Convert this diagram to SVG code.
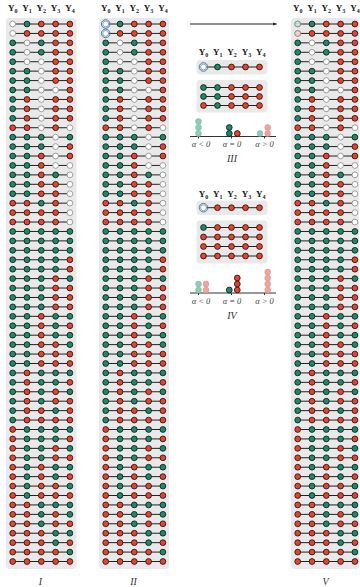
<svg xmlns="http://www.w3.org/2000/svg" xmlns:xlink="http://www.w3.org/1999/xlink" width="360" height="587" viewBox="0 0 360 587">
<style>
.g{fill:#1b8a6b;stroke:#111;stroke-width:0.8}
.r{fill:#e8412c;stroke:#111;stroke-width:0.8}
.w{fill:#fff;stroke:#8a8a8a;stroke-width:0.8}
.lg{fill:#93cbb9;stroke:#7db7a5;stroke-width:0.6}
.lr{fill:#f2a39b;stroke:#dd8f87;stroke-width:0.6}
.ring{fill:none;stroke:#3b82c4;stroke-width:1}
.panel{fill:#e9e9e9}
.conn{stroke:#222;stroke-width:1;fill:none}
.lab{font-family:"Liberation Serif",serif;font-weight:bold;font-size:9px;text-anchor:middle;fill:#222}
.sub{font-size:6px}
.cap{font-family:"Liberation Serif",serif;font-style:italic;font-size:10px;text-anchor:middle;fill:#333}
.al{font-family:"Liberation Serif",serif;font-style:italic;font-size:8.5px;text-anchor:middle;fill:#444}
.axis{stroke:#333;stroke-width:1;fill:none}
</style>
<defs>
<circle id="G" class="g" r="2.9"/>
<circle id="R" class="r" r="2.9"/>
<circle id="W" class="w" r="2.9"/>
<pattern id="hg" width="1.6" height="1.6" patternUnits="userSpaceOnUse"><rect width="1.6" height="1.6" fill="#fff"/><circle cx="0.8" cy="0.8" r="0.5" fill="#1b8a6b"/></pattern>
<pattern id="hr" width="1.6" height="1.6" patternUnits="userSpaceOnUse"><rect width="1.6" height="1.6" fill="#fff"/><circle cx="0.8" cy="0.8" r="0.5" fill="#e8412c"/></pattern>
<marker id="ah" markerWidth="4" markerHeight="4" refX="3.5" refY="2" orient="auto" markerUnits="userSpaceOnUse"><path d="M0,0.5 L4,2 L0,3.5 Z" fill="#222"/></marker>
<path id="lines" class="conn" d="M0 24h57.2M0 33.43h57.2M0 42.86h57.2M0 52.29h57.2M0 61.72h57.2M0 71.15h57.2M0 80.58h57.2M0 90.01h57.2M0 99.44h57.2M0 108.87h57.2M0 118.3h57.2M0 127.73h57.2M0 137.16h57.2M0 146.59h57.2M0 156.02h57.2M0 165.45h57.2M0 174.88h57.2M0 184.31h57.2M0 193.74h57.2M0 203.17h57.2M0 212.6h57.2M0 222.03h57.2M0 231.46h57.2M0 240.89h57.2M0 250.32h57.2M0 259.75h57.2M0 269.18h57.2M0 278.61h57.2M0 288.04h57.2M0 297.47h57.2M0 306.9h57.2M0 316.33h57.2M0 325.76h57.2M0 335.19h57.2M0 344.62h57.2M0 354.05h57.2M0 363.48h57.2M0 372.91h57.2M0 382.34h57.2M0 391.77h57.2M0 401.2h57.2M0 410.63h57.2M0 420.06h57.2M0 429.49h57.2M0 438.92h57.2M0 448.35h57.2M0 457.78h57.2M0 467.21h57.2M0 476.64h57.2M0 486.07h57.2M0 495.5h57.2M0 504.93h57.2M0 514.36h57.2M0 523.79h57.2M0 533.22h57.2M0 542.65h57.2M0 552.08h57.2M0 561.51h57.2"/>
<g id="rows">
<g id="r0" transform="translate(0 24)"><use href="#W"/><use href="#G" x="14.3"/><use href="#R" x="28.6"/><use href="#R" x="42.9"/><use href="#R" x="57.2"/></g>
<g id="r1" transform="translate(0 33.43)"><use href="#W"/><use href="#R" x="14.3"/><use href="#R" x="28.6"/><use href="#R" x="42.9"/><use href="#R" x="57.2"/></g>
<g id="r2" transform="translate(0 42.86)"><use href="#G"/><use href="#W" x="14.3"/><use href="#G" x="28.6"/><use href="#R" x="42.9"/><use href="#R" x="57.2"/></g>
<g id="r3" transform="translate(0 52.29)"><use href="#G"/><use href="#W" x="14.3"/><use href="#G" x="28.6"/><use href="#R" x="42.9"/><use href="#R" x="57.2"/></g>
<g id="r4" transform="translate(0 61.72)"><use href="#G"/><use href="#W" x="14.3"/><use href="#W" x="28.6"/><use href="#R" x="42.9"/><use href="#R" x="57.2"/></g>
<g id="r5" transform="translate(0 71.15)"><use href="#G"/><use href="#G" x="14.3"/><use href="#W" x="28.6"/><use href="#R" x="42.9"/><use href="#R" x="57.2"/></g>
<g id="r6" transform="translate(0 80.58)"><use href="#G"/><use href="#G" x="14.3"/><use href="#W" x="28.6"/><use href="#R" x="42.9"/><use href="#R" x="57.2"/></g>
<g id="r7" transform="translate(0 90.01)"><use href="#G"/><use href="#G" x="14.3"/><use href="#W" x="28.6"/><use href="#W" x="42.9"/><use href="#R" x="57.2"/></g>
<g id="r8" transform="translate(0 99.44)"><use href="#G"/><use href="#R" x="14.3"/><use href="#W" x="28.6"/><use href="#R" x="42.9"/><use href="#R" x="57.2"/></g>
<g id="r9" transform="translate(0 108.87)"><use href="#G"/><use href="#R" x="14.3"/><use href="#W" x="28.6"/><use href="#R" x="42.9"/><use href="#R" x="57.2"/></g>
<g id="r10" transform="translate(0 118.3)"><use href="#G"/><use href="#R" x="14.3"/><use href="#W" x="28.6"/><use href="#R" x="42.9"/><use href="#R" x="57.2"/></g>
<g id="r11" transform="translate(0 127.73)"><use href="#R"/><use href="#R" x="14.3"/><use href="#W" x="28.6"/><use href="#R" x="42.9"/><use href="#W" x="57.2"/></g>
<g id="r12" transform="translate(0 137.16)"><use href="#G"/><use href="#G" x="14.3"/><use href="#G" x="28.6"/><use href="#W" x="42.9"/><use href="#G" x="57.2"/></g>
<g id="r13" transform="translate(0 146.59)"><use href="#G"/><use href="#G" x="14.3"/><use href="#G" x="28.6"/><use href="#W" x="42.9"/><use href="#R" x="57.2"/></g>
<g id="r14" transform="translate(0 156.02)"><use href="#G"/><use href="#G" x="14.3"/><use href="#R" x="28.6"/><use href="#W" x="42.9"/><use href="#R" x="57.2"/></g>
<g id="r15" transform="translate(0 165.45)"><use href="#G"/><use href="#G" x="14.3"/><use href="#R" x="28.6"/><use href="#W" x="42.9"/><use href="#W" x="57.2"/></g>
<g id="r16" transform="translate(0 174.88)"><use href="#G"/><use href="#G" x="14.3"/><use href="#R" x="28.6"/><use href="#G" x="42.9"/><use href="#W" x="57.2"/></g>
<g id="r17" transform="translate(0 184.31)"><use href="#G"/><use href="#G" x="14.3"/><use href="#R" x="28.6"/><use href="#R" x="42.9"/><use href="#W" x="57.2"/></g>
<g id="r18" transform="translate(0 193.74)"><use href="#G"/><use href="#G" x="14.3"/><use href="#R" x="28.6"/><use href="#R" x="42.9"/><use href="#W" x="57.2"/></g>
<g id="r19" transform="translate(0 203.17)"><use href="#R"/><use href="#R" x="14.3"/><use href="#G" x="28.6"/><use href="#R" x="42.9"/><use href="#W" x="57.2"/></g>
<g id="r20" transform="translate(0 212.6)"><use href="#R"/><use href="#R" x="14.3"/><use href="#R" x="28.6"/><use href="#R" x="42.9"/><use href="#W" x="57.2"/></g>
<g id="r21" transform="translate(0 222.03)"><use href="#R"/><use href="#R" x="14.3"/><use href="#R" x="28.6"/><use href="#R" x="42.9"/><use href="#W" x="57.2"/></g>
<g id="r22" transform="translate(0 231.46)"><use href="#G"/><use href="#G" x="14.3"/><use href="#G" x="28.6"/><use href="#G" x="42.9"/><use href="#G" x="57.2"/></g>
<g id="r23" transform="translate(0 240.89)"><use href="#G"/><use href="#G" x="14.3"/><use href="#G" x="28.6"/><use href="#G" x="42.9"/><use href="#G" x="57.2"/></g>
<g id="r24" transform="translate(0 250.32)"><use href="#G"/><use href="#G" x="14.3"/><use href="#G" x="28.6"/><use href="#G" x="42.9"/><use href="#G" x="57.2"/></g>
<g id="r25" transform="translate(0 259.75)"><use href="#G"/><use href="#G" x="14.3"/><use href="#G" x="28.6"/><use href="#G" x="42.9"/><use href="#R" x="57.2"/></g>
<g id="r26" transform="translate(0 269.18)"><use href="#G"/><use href="#G" x="14.3"/><use href="#G" x="28.6"/><use href="#G" x="42.9"/><use href="#R" x="57.2"/></g>
<g id="r27" transform="translate(0 278.61)"><use href="#G"/><use href="#G" x="14.3"/><use href="#G" x="28.6"/><use href="#R" x="42.9"/><use href="#G" x="57.2"/></g>
<g id="r28" transform="translate(0 288.04)"><use href="#G"/><use href="#G" x="14.3"/><use href="#G" x="28.6"/><use href="#R" x="42.9"/><use href="#R" x="57.2"/></g>
<g id="r29" transform="translate(0 297.47)"><use href="#G"/><use href="#G" x="14.3"/><use href="#G" x="28.6"/><use href="#R" x="42.9"/><use href="#R" x="57.2"/></g>
<g id="r30" transform="translate(0 306.9)"><use href="#G"/><use href="#G" x="14.3"/><use href="#G" x="28.6"/><use href="#R" x="42.9"/><use href="#R" x="57.2"/></g>
<g id="r31" transform="translate(0 316.33)"><use href="#G"/><use href="#G" x="14.3"/><use href="#R" x="28.6"/><use href="#G" x="42.9"/><use href="#G" x="57.2"/></g>
<g id="r32" transform="translate(0 325.76)"><use href="#G"/><use href="#G" x="14.3"/><use href="#R" x="28.6"/><use href="#G" x="42.9"/><use href="#R" x="57.2"/></g>
<g id="r33" transform="translate(0 335.19)"><use href="#G"/><use href="#G" x="14.3"/><use href="#R" x="28.6"/><use href="#G" x="42.9"/><use href="#G" x="57.2"/></g>
<g id="r34" transform="translate(0 344.62)"><use href="#G"/><use href="#G" x="14.3"/><use href="#R" x="28.6"/><use href="#R" x="42.9"/><use href="#G" x="57.2"/></g>
<g id="r35" transform="translate(0 354.05)"><use href="#G"/><use href="#G" x="14.3"/><use href="#R" x="28.6"/><use href="#R" x="42.9"/><use href="#R" x="57.2"/></g>
<g id="r36" transform="translate(0 363.48)"><use href="#G"/><use href="#G" x="14.3"/><use href="#R" x="28.6"/><use href="#R" x="42.9"/><use href="#R" x="57.2"/></g>
<g id="r37" transform="translate(0 372.91)"><use href="#G"/><use href="#R" x="14.3"/><use href="#G" x="28.6"/><use href="#G" x="42.9"/><use href="#G" x="57.2"/></g>
<g id="r38" transform="translate(0 382.34)"><use href="#G"/><use href="#R" x="14.3"/><use href="#G" x="28.6"/><use href="#G" x="42.9"/><use href="#R" x="57.2"/></g>
<g id="r39" transform="translate(0 391.77)"><use href="#G"/><use href="#R" x="14.3"/><use href="#G" x="28.6"/><use href="#R" x="42.9"/><use href="#G" x="57.2"/></g>
<g id="r40" transform="translate(0 401.2)"><use href="#G"/><use href="#R" x="14.3"/><use href="#G" x="28.6"/><use href="#R" x="42.9"/><use href="#R" x="57.2"/></g>
<g id="r41" transform="translate(0 410.63)"><use href="#G"/><use href="#R" x="14.3"/><use href="#R" x="28.6"/><use href="#G" x="42.9"/><use href="#R" x="57.2"/></g>
<g id="r42" transform="translate(0 420.06)"><use href="#G"/><use href="#R" x="14.3"/><use href="#R" x="28.6"/><use href="#R" x="42.9"/><use href="#R" x="57.2"/></g>
<g id="r43" transform="translate(0 429.49)"><use href="#R"/><use href="#G" x="14.3"/><use href="#G" x="28.6"/><use href="#G" x="42.9"/><use href="#G" x="57.2"/></g>
<g id="r44" transform="translate(0 438.92)"><use href="#R"/><use href="#G" x="14.3"/><use href="#G" x="28.6"/><use href="#G" x="42.9"/><use href="#R" x="57.2"/></g>
<g id="r45" transform="translate(0 448.35)"><use href="#R"/><use href="#G" x="14.3"/><use href="#G" x="28.6"/><use href="#R" x="42.9"/><use href="#G" x="57.2"/></g>
<g id="r46" transform="translate(0 457.78)"><use href="#R"/><use href="#G" x="14.3"/><use href="#G" x="28.6"/><use href="#R" x="42.9"/><use href="#R" x="57.2"/></g>
<g id="r47" transform="translate(0 467.21)"><use href="#R"/><use href="#G" x="14.3"/><use href="#R" x="28.6"/><use href="#G" x="42.9"/><use href="#G" x="57.2"/></g>
<g id="r48" transform="translate(0 476.64)"><use href="#R"/><use href="#G" x="14.3"/><use href="#R" x="28.6"/><use href="#G" x="42.9"/><use href="#R" x="57.2"/></g>
<g id="r49" transform="translate(0 486.07)"><use href="#R"/><use href="#G" x="14.3"/><use href="#R" x="28.6"/><use href="#R" x="42.9"/><use href="#G" x="57.2"/></g>
<g id="r50" transform="translate(0 495.5)"><use href="#R"/><use href="#G" x="14.3"/><use href="#R" x="28.6"/><use href="#R" x="42.9"/><use href="#R" x="57.2"/></g>
<g id="r51" transform="translate(0 504.93)"><use href="#R"/><use href="#R" x="14.3"/><use href="#G" x="28.6"/><use href="#G" x="42.9"/><use href="#G" x="57.2"/></g>
<g id="r52" transform="translate(0 514.36)"><use href="#R"/><use href="#R" x="14.3"/><use href="#G" x="28.6"/><use href="#R" x="42.9"/><use href="#G" x="57.2"/></g>
<g id="r53" transform="translate(0 523.79)"><use href="#R"/><use href="#R" x="14.3"/><use href="#G" x="28.6"/><use href="#R" x="42.9"/><use href="#R" x="57.2"/></g>
<g id="r54" transform="translate(0 533.22)"><use href="#R"/><use href="#R" x="14.3"/><use href="#R" x="28.6"/><use href="#G" x="42.9"/><use href="#G" x="57.2"/></g>
<g id="r55" transform="translate(0 542.65)"><use href="#R"/><use href="#R" x="14.3"/><use href="#R" x="28.6"/><use href="#G" x="42.9"/><use href="#R" x="57.2"/></g>
<g id="r56" transform="translate(0 552.08)"><use href="#R"/><use href="#R" x="14.3"/><use href="#R" x="28.6"/><use href="#R" x="42.9"/><use href="#G" x="57.2"/></g>
<g id="r57" transform="translate(0 561.51)"><use href="#R"/><use href="#R" x="14.3"/><use href="#R" x="28.6"/><use href="#R" x="42.9"/><use href="#R" x="57.2"/></g>
</g>
<g id="hdr"><text class="lab" x="0" y="11">Y<tspan class="sub" dy="1.5">0</tspan></text><text class="lab" x="14.3" y="11">Y<tspan class="sub" dy="1.5">1</tspan></text><text class="lab" x="28.6" y="11">Y<tspan class="sub" dy="1.5">2</tspan></text><text class="lab" x="42.9" y="11">Y<tspan class="sub" dy="1.5">3</tspan></text><text class="lab" x="57.2" y="11">Y<tspan class="sub" dy="1.5">4</tspan></text></g>
</defs>

<g id="panel-I">
<rect class="panel" x="6" y="18" width="70.5" height="551" rx="4"/>
<use href="#hdr" x="12.7"/>
<g id="panel-I-connectors"><use href="#lines" x="12.7"/></g>
<g id="panel-I-nodes"><use href="#rows" x="12.7"/></g>
<text class="cap" x="40.5" y="585">I</text>
</g>

<g id="panel-II">
<rect class="panel" x="99" y="18" width="70" height="551" rx="4"/>
<use href="#hdr" x="105.7"/>
<g id="panel-II-connectors"><use href="#lines" x="105.7"/></g>
<g id="panel-II-nodes"><use href="#rows" x="105.7"/>
<circle class="ring" cx="105.7" cy="24" r="4.3"/>
<circle class="ring" cx="105.7" cy="33.43" r="4.3"/>
</g>
<text class="cap" x="133.5" y="585">II</text>
</g>

<g id="panel-V">
<rect class="panel" x="291" y="18" width="68" height="551" rx="4"/>
<use href="#hdr" x="297.7"/>
<g id="panel-V-connectors"><use href="#lines" x="297.7"/></g>
<g id="panel-V-nodes"><use href="#rows" x="297.7"/>
<circle cx="297.7" cy="24" r="2.9" fill="url(#hg)" stroke="#777" stroke-width="0.7"/>
<circle cx="297.7" cy="33.43" r="2.9" fill="url(#hr)" stroke="#777" stroke-width="0.7"/>
</g>
<text class="cap" x="325.5" y="585">V</text>
</g>

<g id="arrow"><line x1="190" y1="24" x2="276.5" y2="24" stroke="#222" stroke-width="1" marker-end="url(#ah)"/></g>

<g id="panel-III">
<use href="#hdr" x="203.5" y="44"/>
<rect class="panel" x="196.5" y="60" width="71" height="14.5" rx="3.5"/>
<rect class="panel" x="196.5" y="80" width="71" height="32.5" rx="3.5"/>
<g id="panel-III-connectors" class="conn"><path d="M203.5 67h56M203.5 87.5h56M203.5 96.5h56M203.5 105.5h56"/></g>
<g id="panel-III-nodes">
<circle class="w" cx="203.5" cy="67" r="2.9"/><circle class="ring" cx="203.5" cy="67" r="4.3"/><circle class="g" cx="217.5" cy="67" r="2.9"/><circle class="r" cx="231.5" cy="67" r="2.9"/><circle class="r" cx="245.5" cy="67" r="2.9"/><circle class="r" cx="259.5" cy="67" r="2.9"/>
<circle class="g" cx="203.5" cy="87.5" r="2.9"/><circle class="g" cx="217.5" cy="87.5" r="2.9"/><circle class="r" cx="231.5" cy="87.5" r="2.9"/><circle class="r" cx="245.5" cy="87.5" r="2.9"/><circle class="r" cx="259.5" cy="87.5" r="2.9"/>
<circle class="g" cx="203.5" cy="96.5" r="2.9"/><circle class="g" cx="217.5" cy="96.5" r="2.9"/><circle class="r" cx="231.5" cy="96.5" r="2.9"/><circle class="r" cx="245.5" cy="96.5" r="2.9"/><circle class="r" cx="259.5" cy="96.5" r="2.9"/>
<circle class="r" cx="203.5" cy="105.5" r="2.9"/><circle class="g" cx="217.5" cy="105.5" r="2.9"/><circle class="r" cx="231.5" cy="105.5" r="2.9"/><circle class="r" cx="245.5" cy="105.5" r="2.9"/><circle class="r" cx="259.5" cy="105.5" r="2.9"/>
</g>
<g id="hist-III">
<path class="axis" d="M190 136.5H276M198.5 136.5v2M231.5 136.5v2M264.5 136.5v2"/>
<circle class="lg" cx="198.5" cy="121.5" r="2.9"/><circle class="lg" cx="198.5" cy="127.5" r="2.9"/><circle class="lg" cx="198.5" cy="133.5" r="2.9"/>
<circle class="g" cx="229.3" cy="127.5" r="2.9"/><circle class="g" cx="229.3" cy="133.5" r="2.9"/><circle class="r" cx="237.3" cy="133.5" r="2.9"/>
<circle class="lg" cx="260" cy="133.5" r="2.9"/><circle class="lr" cx="267.7" cy="127.5" r="2.9"/><circle class="lr" cx="267.7" cy="133.5" r="2.9"/>
<text class="al" x="201" y="147">α &lt; 0</text><text class="al" x="232" y="147">α = 0</text><text class="al" x="264.5" y="147">α &gt; 0</text>
</g>
<text class="cap" x="232" y="162">III</text>
</g>

<g id="panel-IV">
<use href="#hdr" x="203.5" y="186"/>
<rect class="panel" x="196.5" y="200.5" width="71" height="14.5" rx="3.5"/>
<rect class="panel" x="196.5" y="220.5" width="71" height="43" rx="3.5"/>
<g id="panel-IV-connectors" class="conn"><path d="M203.5 207.7h56M203.5 227.5h56M203.5 237h56M203.5 246.5h56M203.5 256h56"/></g>
<g id="panel-IV-nodes">
<circle class="w" cx="203.5" cy="207.7" r="2.9"/><circle class="ring" cx="203.5" cy="207.7" r="4.3"/><circle class="r" cx="217.5" cy="207.7" r="2.9"/><circle class="r" cx="231.5" cy="207.7" r="2.9"/><circle class="r" cx="245.5" cy="207.7" r="2.9"/><circle class="r" cx="259.5" cy="207.7" r="2.9"/>
<circle class="g" cx="203.5" cy="227.5" r="2.9"/><circle class="r" cx="217.5" cy="227.5" r="2.9"/><circle class="r" cx="231.5" cy="227.5" r="2.9"/><circle class="r" cx="245.5" cy="227.5" r="2.9"/><circle class="r" cx="259.5" cy="227.5" r="2.9"/>
<circle class="r" cx="203.5" cy="237" r="2.9"/><circle class="r" cx="217.5" cy="237" r="2.9"/><circle class="r" cx="231.5" cy="237" r="2.9"/><circle class="r" cx="245.5" cy="237" r="2.9"/><circle class="r" cx="259.5" cy="237" r="2.9"/>
<circle class="r" cx="203.5" cy="246.5" r="2.9"/><circle class="r" cx="217.5" cy="246.5" r="2.9"/><circle class="r" cx="231.5" cy="246.5" r="2.9"/><circle class="r" cx="245.5" cy="246.5" r="2.9"/><circle class="r" cx="259.5" cy="246.5" r="2.9"/>
<circle class="r" cx="203.5" cy="256" r="2.9"/><circle class="r" cx="217.5" cy="256" r="2.9"/><circle class="r" cx="231.5" cy="256" r="2.9"/><circle class="r" cx="245.5" cy="256" r="2.9"/><circle class="r" cx="259.5" cy="256" r="2.9"/>
</g>
<g id="hist-IV">
<path class="axis" d="M190 293H276M198.5 293v2M231.5 293v2M264.5 293v2"/>
<circle class="lg" cx="198.5" cy="284" r="2.9"/><circle class="lg" cx="198.5" cy="290" r="2.9"/><circle class="lr" cx="206" cy="284" r="2.9"/><circle class="lr" cx="206" cy="290" r="2.9"/>
<circle class="g" cx="229.3" cy="290" r="2.9"/><circle class="r" cx="237.3" cy="278" r="2.9"/><circle class="r" cx="237.3" cy="284" r="2.9"/><circle class="r" cx="237.3" cy="290" r="2.9"/>
<circle class="lr" cx="267.7" cy="272" r="2.9"/><circle class="lr" cx="267.7" cy="278" r="2.9"/><circle class="lr" cx="267.7" cy="284" r="2.9"/><circle class="lr" cx="267.7" cy="290" r="2.9"/>
<text class="al" x="201" y="303.5">α &lt; 0</text><text class="al" x="232" y="303.5">α = 0</text><text class="al" x="264.5" y="303.5">α &gt; 0</text>
</g>
<text class="cap" x="232" y="319">IV</text>
</g>
</svg>
